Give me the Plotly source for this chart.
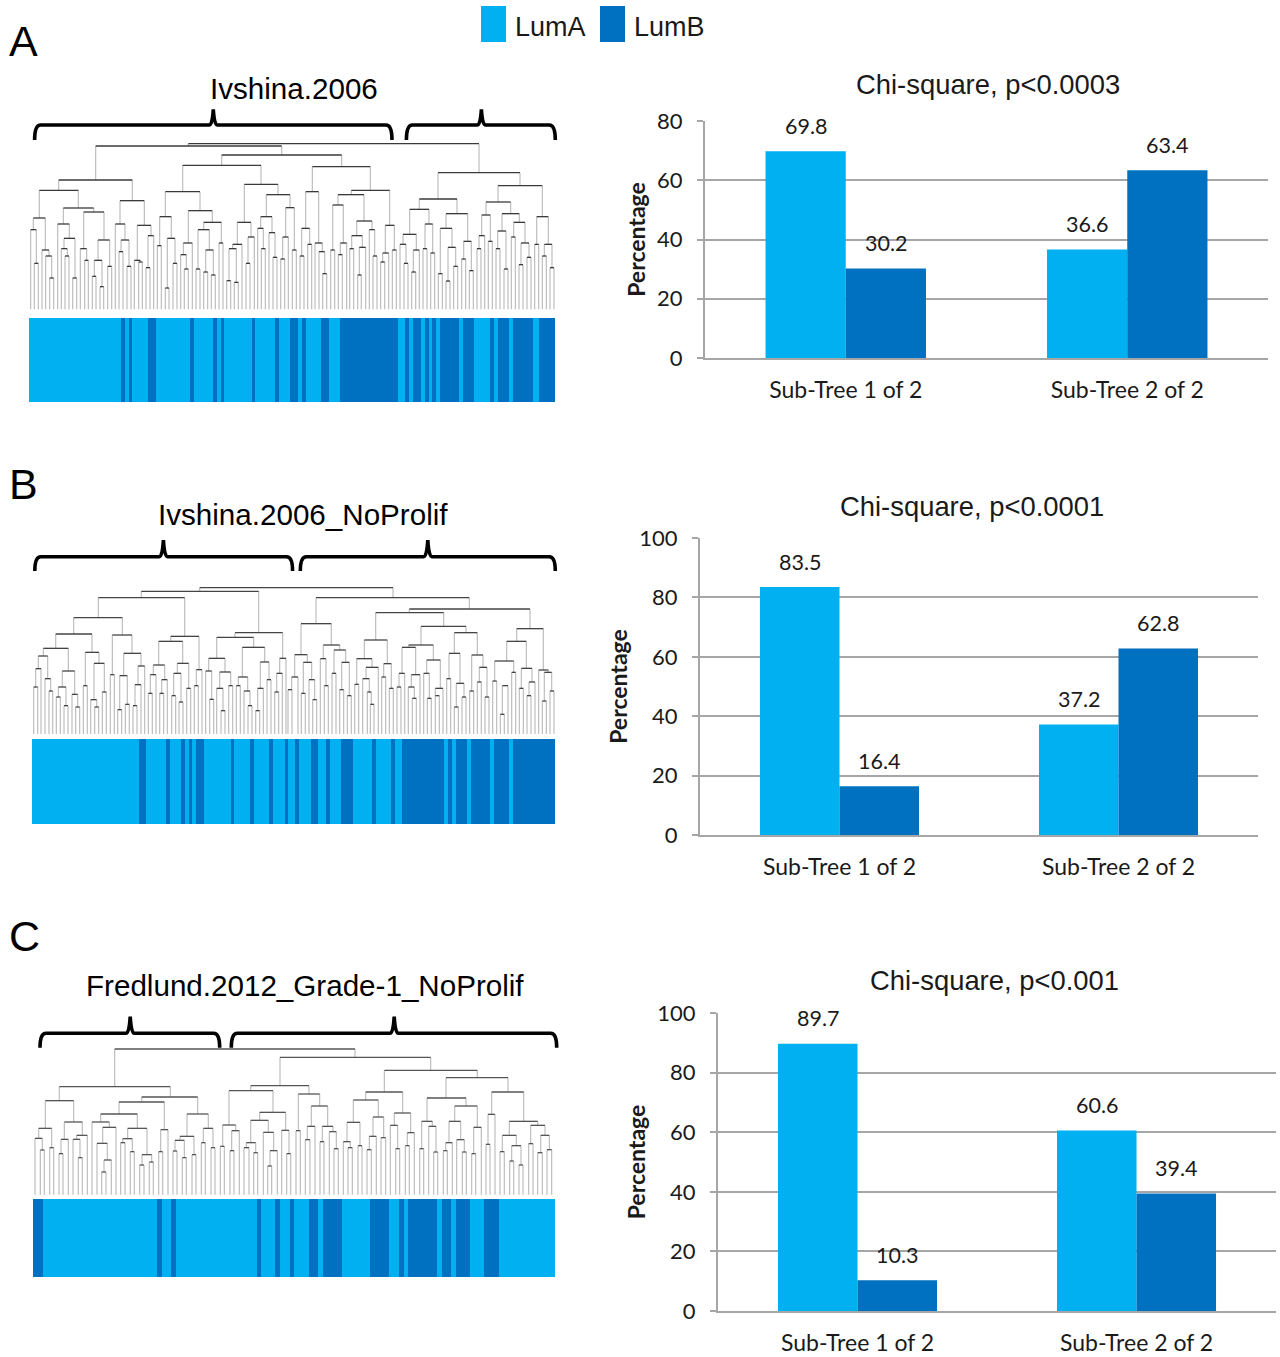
import plotly.graph_objects as go

W, H = 1280, 1357
LUMA, LUMB = "#00B0F0", "#0070C0"
GRID = "#A6A6A6"
SANS = "Liberation Sans"
BODY = "Lato"

# ---------- bar chart data ----------
categories = ["Sub-Tree 1 of 2", "Sub-Tree 2 of 2"]
lumA_a = [69.8, 36.6]
lumB_a = [30.2, 63.4]
lumA_b = [83.5, 37.2]
lumB_b = [16.4, 62.8]
lumA_c = [89.7, 60.6]
lumB_c = [10.3, 39.4]
titles = ["Chi-square, p<0.0003", "Chi-square, p<0.0001", "Chi-square, p<0.001"]
tree_names = ["Ivshina.2006", "Ivshina.2006_NoProlif", "Fredlund.2012_Grade-1_NoProlif"]

# ---------- class strips: runs of LumB along the samples ----------
lumb_runs_a = [(120.8,125),(128.9,132.4),(147.8,155.5),(190.2,193.7),(213,216.8),(220.7,224.2),
               (251.5,255.4),(274.6,278.5),(290,297.8),(301.6,305.5),(320.9,328.6),(339.8,397.6),
               (405.3,408.8),(413,420.7),(424.6,428.5),(432.3,436.2),(440,459.3),(463,474.4),
               (490,494),(497.8,509.4),(513.3,532.5),(539,555)]
lumb_runs_b = [(138.8,146.2),(165.8,169.7),(181.2,185.1),(188.9,192.1),(195.9,203.6),(230.6,234.1),
               (249.9,253.7),(269.2,272.7),(284.6,288.1),(295.4,298.9),(310.5,318.2),(325.9,329.8),
               (341.3,352.5),(371.8,375.6),(391,394.6),(401.9,444.3),(447.5,452),(455.5,467.1),
               (470.6,490.2),(493.7,509.1),(513,555)]
lumb_runs_c = [(33,42.8),(156.6,161.8),(170.6,175.5),(256.6,261.2),(275.2,280.1),(289.6,294.2),
               (308.5,318.4),(322.9,341.9),(370.3,389.3),(398.7,403.6),(408.2,437),(441.5,451),
               (455.8,469.8),(484.2,498.6)]

# ---------- dendrogram merges: (left, right, height) ----------
tree_a_left = [
 (490,1362,11),(212,770,18),(590,950,45),(473,708,76),(101,322,120),(43,160,151),(285,358,182),
 (115,206,204),(176,237,216),(25,61,234),(17,34,269),(28,40,370),(51,72,330),(62,80,348),(74,86,414),
 (98,133,252),(117,150,295),(109,127,326),(120,132,348),(143,155,414),(166,185,326),(179,190,361),
 (219,254,300),(208,231,361),(202,213,409),(225,236,440),(248,260,379),(271,300,252),(288,312,300),
 (282,294,335),(306,318,379),(337,378,256),(328,346,361),(341,352,366),(369,386,287),(363,375,383),
 (404,439,230),(397,409,317),(427,450,295),(421,432,444),(444,456,370),(421,525,155),(490,562,212),
 (475,502,309),(467,484,344),(478,490,387),(536,589,247),(519,553,269),(513,525,387),(542,565,330),
 (536,548,396),(559,571,405),(582,594,309),(637,678,247),(623,651,313),(612,634,326),(605,617,422),
 (628,640,427),(663,675,370),(669,688,291),(658,759,133),(724,795,164),(707,741,230),(698,715,265),
 (709,721,326),(732,750,278),(744,756,352),(767,779,357),(782,808,203),(773,790,291),(802,814,330)]
tree_a_right = [
 (67,241,80),(47,86,155),(35,59,265),(30,42,348),(53,65,313),(75,97,309),(87,104,335),(98,110,401),
 (184,299,151),(144,222,164),(128,160,195),(122,134,330),(151,170,309),(145,157,344),(200,246,243),
 (185,217,287),(179,191,326),(208,227,322),(203,214,405),(238,254,269),(249,261,348),(286,313,256),
 (278,296,339),(272,284,366),(307,319,330),(444,690,98),(388,501,177),(624,757,137),(359,417,208),
 (468,533,221),(339,379,283),(330,348,313),(342,354,370),(370,388,330),(365,377,396),(405,428,252),
 (399,411,326),(422,434,339),(451,486,265),(521,544,304),(445,457,401),(474,497,322),(468,480,423),
 (491,503,379),(515,527,357),(538,550,392),(588,662,186),(740,775,230),(575,601,225),(636,688,221),
 (567,584,287),(561,573,326),(595,607,304),(623,648,273),(618,630,326),(642,654,387),(671,705,247),
 (664,676,291),(693,717,309),(687,699,374),(711,723,352),(734,746,313),(763,786,313),(757,769,348),
 (780,792,383)]

tree_b_left = [
 (515,1095,8),(340,692,19),(211,470,38),(137,283,98),(83,192,147),(253,312,150),(46,121,190),(172,213,202),
 (31,59,213),(23,39,251),(17,29,306),(51,68,281),(63,74,318),(103,140,258),(91,114,306),(85,97,336),
 (108,120,362),(132,149,328),(143,155,366),(166,178,302),(198,229,235),(188,206,344),(200,212,366),
 (223,235,321),(247,259,269),(287,339,205),(275,298,272),(269,281,374),(292,304,358),(321,339,299),
 (315,327,362),(330,350,243),(428,513,154),(392,464,169),(505,522,254),(499,511,302),(376,410,240),
 (367,384,269),(361,373,325),(401,418,284),(395,407,325),(448,482,235),(437,459,265),(431,443,332),
 (453,465,351),(476,488,310),(621,764,143),(566,677,157),(755,774,220),(746,763,265),(740,752,321),
 (542,591,220),(533,551,258),(545,557,343),(575,608,261),(566,585,310),(579,591,377),(602,614,302),
 (643,710,187),(631,659,276),(625,637,302),(648,666,318),(660,672,362),(697,723,231),(689,706,310),
 (683,695,377),(717,729,284)]
tree_b_right = [
 (78,538,38),(33,124,116),(14,52,209),(5,24,276),(-6,6,314),(40,65,232),(34,46,325),(57,74,284),(68,80,344),
 (100,149,180),(91,108,221),(103,115,302),(132,167,195),(126,138,265),(155,178,232),(149,161,314),(172,184,332),
 (358,720,72),(257,461,83),(223,292,165),(200,246,221),(194,206,298),(228,265,247),(218,238,281),(232,244,321),
 (241,252,358),(281,304,236),(275,287,276),(298,310,310),(393,528,124),(356,430,180),(336,377,187),(410,451,225),
 (327,344,265),(321,333,306),(364,390,269),(355,373,306),(367,379,340),(401,418,265),(412,424,340),(436,459,310),
 (436,448,332),(493,562,143),(477,510,205),(470,482,281),(499,522,295),(493,505,366),(516,528,336),(545,579,210),
 (539,551,318),(568,591,247),(562,574,291),(585,597,336),(680,760,131),(650,709,169),(746,775,255),(614,671,228),
 (608,620,288),(637,654,302),(631,643,388),(665,677,262),(694,726,250),(688,700,310),(717,735,291),(711,723,332),
 (763,785,262),(757,769,348),(780,792,318)]

tree_c_left = [
 (254,975,12),(88,421,125),(46,131,167),(335,503,156),(267,403,171),(212,322,207),(26,65,250),(103,157,231),
 (15,37,280),(31,43,315),(59,71,308),(93,115,283),(87,99,326),(140,172,271),(129,150,283),(145,157,338),
 (186,238,231),(218,258,247),(201,232,295),(222,244,345),(215,228,381),(293,351,250),(278,307,281),(272,285,293),
 (301,313,320),(336,365,329),(329,342,360),(358,370,351),(392,414,254),(386,398,320),(471,535,207),(450,492,274),
 (435,463,286),(429,441,318),(457,469,338),(486,498,329),(520,549,250),(514,526,293),(543,555,308),(750,1202,37),
 (662,837,122),(597,729,137),(578,617,240),(571,583,304),(605,628,257),(600,612,317),(689,767,202),(662,715,226),
 (649,677,293),(642,657,308),(671,683,323),(700,731,262),(720,742,317),(713,725,363),(755,777,256),(770,782,326)]
tree_c_right = [
 (25,89,147),(18,31,257),(64,113,183),(52,75,244),(46,60,284),(97,129,244),(90,102,290),(118,139,260),(132,145,311),
 (283,562,76),(227,338,141),(190,265,165),(171,210,232),(160,181,290),(174,187,308),(204,216,302),(249,281,216),
 (238,259,274),(231,244,314),(273,287,278),(313,362,204),(301,323,241),(317,329,311),(352,373,263),(346,358,302),
 (468,654,98),(411,528,159),(605,701,141),(395,427,229),(389,401,311),(416,438,244),(431,443,321),(494,562,183),
 (477,512,229),(467,487,293),(460,472,317),(500,523,284),(517,529,321),(551,574,247),(545,557,326),(594,615,208),
 (588,600,298),(658,743,229),(637,679,271),(630,643,320),(665,693,302),(659,671,348),(687,699,360),(722,765,241),
 (716,729,296),(752,778,271),(743,757,323),(771,785,314)]


def dom_x(a, b):
    return [a / W, b / W]


def dom_y(top, bottom):
    return [1 - bottom / H, 1 - top / H]


def tree_segments(merges, baseline):
    """Horizontal bars and the stems that hang from their ends."""
    hx, hy, vx, vy = [], [], [], []
    for left, right, height in merges:
        hx += [left, right, None]
        hy += [height, height, None]
        for end in (left, right):
            below = [m for m in merges if m[2] > height and abs((m[0] + m[1]) / 2 - end) <= 9]
            stop = min((m[2] for m in below), default=baseline)
            vx += [end, end, None]
            vy += [height, stop, None]
    return hx, hy, vx, vy


def strip_cells(runs, start, end):
    edges, values = [start], []
    pos = start
    for a, b in runs:
        if a > pos:
            edges.append(a)
            values.append(0)
        edges.append(b)
        values.append(1)
        pos = b
    if pos < end:
        edges.append(end)
        values.append(0)
    return edges, values


fig = go.Figure()
layout = {}

# ---------- bar charts ----------
bar_panels = [
    (lumA_a, lumB_a, 705, 1268, 121, 358, 80, (988, 84)),
    (lumA_b, lumB_b, 700, 1258, 538, 835, 100, (972, 506)),
    (lumA_c, lumB_c, 718, 1276, 1013, 1311, 100, (994, 980)),
]
annotations = []
for i, (a_vals, b_vals, x0, x1, top, bot, ymax, title_pos) in enumerate(bar_panels):
    n = i + 1
    xa = "x" if n == 1 else f"x{n}"
    ya = "y" if n == 1 else f"y{n}"
    idx = list(range(len(categories)))
    for name, vals, col, off in (("LumA", a_vals, LUMA, -0.1425), ("LumB", b_vals, LUMB, 0.1425)):
        fig.add_trace(go.Bar(x=idx, y=vals, name=name, marker=dict(color=col, line=dict(width=0)),
                             xaxis=xa, yaxis=ya, showlegend=False,
                             offsetgroup=name, hoverinfo="y"))
        for k, v in zip(idx, vals):
            annotations.append(dict(x=k + off, y=v, xref=xa, yref=ya, text=f"{v:.1f}", showarrow=False,
                                    yshift=25.5, yanchor="middle",
                                    font=dict(family=BODY, size=21.5, color="#1a1a1a")))
    key = "" if n == 1 else str(n)
    layout[f"xaxis{key}"] = dict(domain=dom_x(x0, x1), range=[-0.5, 1.5], anchor=ya, tickmode="array",
                                 tickvals=idx, ticktext=categories, showline=True, linecolor=GRID, linewidth=2,
                                 ticks="", showgrid=False, zeroline=False, ticklabelstandoff=10, automargin=False,
                                 tickfont=dict(family=BODY, size=23, color="#1a1a1a"))
    layout[f"yaxis{key}"] = dict(domain=dom_y(top, bot), range=[0, ymax], anchor=xa, dtick=20,
                                 showline=True, linecolor=GRID, linewidth=2, ticks="outside", ticklen=6,
                                 tickwidth=2, tickcolor=GRID, showgrid=True, gridcolor=GRID, gridwidth=2,
                                 zeroline=False, ticklabelstandoff=10, automargin=False,
                                 tickfont=dict(family=BODY, size=22, color="#1a1a1a"),
                                 title=dict(text="<b>Percentage</b>", standoff=5,
                                            font=dict(family=BODY, size=23, color="#1a1a1a")))

# ---------- dendrograms ----------
tree_panels = [
    (tree_a_left, tree_a_right, 795, 25, 560, 140, 315, 508, "#3a3a3a"),
    (tree_b_left, tree_b_right, 786, 28, 560, 585, 740, 447, "#444444"),
    (tree_c_left, tree_c_right, 780, 30, 560, 1045, 1200, 449, "#555555"),
]
for i, (left, right, shift, x0, x1, top, bot, base, dark) in enumerate(tree_panels):
    n = 4 + i
    merges = list(left) + [(l + shift, r + shift, h) for l, r, h in right]
    hx, hy, vx, vy = tree_segments(merges, base)
    fig.add_trace(go.Scatter(x=vx, y=vy, mode="lines", line=dict(color="#BEBEBE", width=1.2),
                             xaxis=f"x{n}", yaxis=f"y{n}", showlegend=False, hoverinfo="skip"))
    fig.add_trace(go.Scatter(x=hx, y=hy, mode="lines", line=dict(color=dark, width=1.3),
                             xaxis=f"x{n}", yaxis=f"y{n}", showlegend=False, hoverinfo="skip"))
    layout[f"xaxis{n}"] = dict(domain=dom_x(x0, x1), range=[0, (x1 - x0) * 3], visible=False, anchor=f"y{n}",
                               automargin=False)
    layout[f"yaxis{n}"] = dict(domain=dom_y(top, bot), range=[(bot - top) * 3, 0], visible=False, anchor=f"x{n}",
                               automargin=False)

# ---------- class strips ----------
strip_panels = [(lumb_runs_a, 29, 555, 318, 402), (lumb_runs_b, 32, 555, 739, 824), (lumb_runs_c, 33, 555, 1199, 1277)]
for i, (runs, x0, x1, top, bot) in enumerate(strip_panels):
    n = 7 + i
    edges, values = strip_cells(runs, x0, x1)
    fig.add_trace(go.Heatmap(x=edges, y=[0, 1], z=[values], zmin=0, zmax=1, showscale=False,
                             colorscale=[[0, LUMA], [1, LUMB]], xaxis=f"x{n}", yaxis=f"y{n}", hoverinfo="skip"))
    layout[f"xaxis{n}"] = dict(domain=dom_x(x0, x1), range=[x0, x1], visible=False, anchor=f"y{n}", automargin=False)
    layout[f"yaxis{n}"] = dict(domain=dom_y(top, bot), range=[0, 1], visible=False, anchor=f"x{n}", automargin=False)

# ---------- page-level axes in image pixels: brackets, legend, titles ----------
layout["xaxis10"] = dict(domain=[0, 1], range=[0, W], visible=False, anchor="y10", automargin=False)
layout["yaxis10"] = dict(domain=[0, 1], range=[H, 0], visible=False, anchor="x10", automargin=False)
fig.add_trace(go.Scatter(x=[0], y=[0], mode="markers", marker=dict(opacity=0), xaxis="x10", yaxis="y10",
                         showlegend=False, hoverinfo="skip"))

brackets = [
    (34.6, 213.3, 392, 109.3, 125, 140), (406.4, 481.4, 555.3, 109.3, 125, 140),
    (34.8, 163.4, 292.6, 540, 556.7, 571), (300.3, 427.8, 555.3, 540, 556.7, 571),
    (40, 130.2, 219.7, 1016.7, 1033.3, 1047.7), (231.3, 394.2, 556.7, 1016.7, 1033.3, 1047.7),
]
shapes = []
for a, m, b, tip, bar, end in brackets:
    path = (f"M {a},{end} Q {a},{bar} {a+6},{bar} L {m-4},{bar} Q {m-1},{bar} {m},{tip} "
            f"Q {m+1},{bar} {m+4},{bar} L {b-6},{bar} Q {b},{bar} {b},{end}")
    shapes.append(dict(type="path", path=path, xref="x10", yref="y10", line=dict(color="black", width=3.6)))

for (a, b, col) in ((481, 506, LUMA), (600, 625, LUMB)):
    shapes.append(dict(type="rect", x0=a, x1=b, y0=6, y1=42, xref="x10", yref="y10",
                       fillcolor=col, line=dict(width=0)))
for (x, label) in ((513, "LumA"), (632, "LumB")):
    annotations.append(dict(x=x, y=27, xref="x10", yref="y10", text=label, showarrow=False, xanchor="left",
                            yanchor="middle", font=dict(family=SANS, size=27, color="#1a1a1a")))

for (x, y, t) in ((23, 41, "A"), (23, 484, "B"), (24, 936, "C")):
    annotations.append(dict(x=x, y=y, xref="x10", yref="y10", text=t, showarrow=False,
                            font=dict(family=SANS, size=43, color="black")))
for (x, y, t) in ((294, 88, tree_names[0]), (303, 514, tree_names[1]), (305, 985, tree_names[2])):
    annotations.append(dict(x=x, y=y, xref="x10", yref="y10", text=t, showarrow=False,
                            font=dict(family=SANS, size=29.6, color="black")))
for (panel, t) in zip(bar_panels, titles):
    annotations.append(dict(x=panel[7][0], y=panel[7][1], xref="x10", yref="y10", text=t, showarrow=False,
                            font=dict(family=SANS, size=27.4, color="#1a1a1a")))

fig.update_layout(width=W, height=H, margin=dict(l=0, r=0, t=0, b=0), paper_bgcolor="white",
                  plot_bgcolor="rgba(0,0,0,0)", barmode="group", bargap=0.43, bargroupgap=0, showlegend=False,
                  annotations=annotations, shapes=shapes, **layout)

fig.write_html("out.html", post_script="document.body.style.margin='0';", config={"displayModeBar": False})
